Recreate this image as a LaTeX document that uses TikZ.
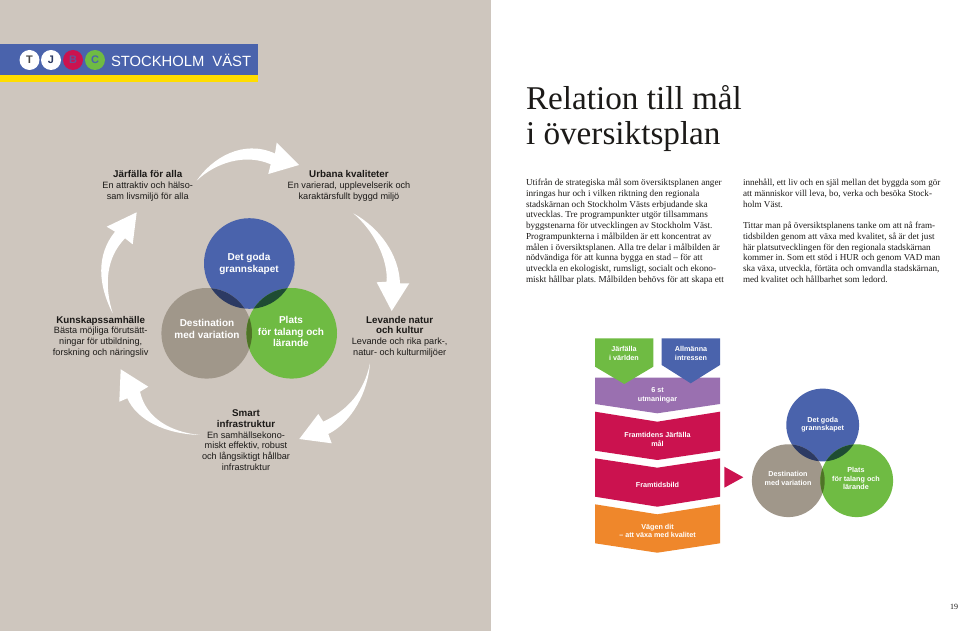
\documentclass[tikz,border=0pt]{standalone}
\usepackage{fontspec}
\usepackage{xcolor}
\usepackage{tikz}
\setmainfont{Liberation Sans}
\newfontfamily\bookfont{Liberation Serif}
\definecolor{figPage}{HTML}{CEC6BE}
\definecolor{figBlue}{HTML}{4A63AC}
\definecolor{figGreen}{HTML}{6FBB43}
\definecolor{figStone}{HTML}{A0978A}
\definecolor{figRed}{HTML}{CB124F}
\definecolor{figPurple}{HTML}{9A70B0}
\definecolor{figOrange}{HTML}{EF872B}
\definecolor{figYellow}{HTML}{FFDD00}
\definecolor{figNavy}{HTML}{2C3A63}
\definecolor{figPine}{HTML}{1E4C33}
\definecolor{figOlive}{HTML}{4F7327}
\definecolor{figInk}{HTML}{1C1A18}
\newcommand{\caphead}[1]{{\fontsize{9.8}{10.7}\selectfont\bfseries #1}}

\begin{document}
\begin{tikzpicture}[
  x=1pt, y=-1pt,
  every node/.style={inner sep=0pt, outer sep=0pt},
  caption/.style={text=figInk, align=center, font=\fontsize{9.15}{10.7}\selectfont},
  vennbig/.style={text=white, align=center, font=\fontsize{10}{11.7}\selectfont\bfseries},
  vennsmall/.style={text=white, align=center, font=\fontsize{7.2}{8.5}\selectfont\bfseries},
  bodytext/.style={text=figInk, align=left, anchor=north west, font=\bookfont\fontsize{#1}{10.74}\selectfont\frenchspacing},
  badge/.style={circle, minimum size=20pt, font=\fontsize{11}{11}\selectfont\bfseries},
]

% --- Page ---
\fill[white] (0,0) rectangle (959,631);
\fill[figPage] (0,0) rectangle (491,631);

% --- Banner ---
\fill[figBlue] (0,44.5) rectangle (258,75);
\fill[figYellow] (0,75) rectangle (258,82.5);
\node[badge, fill=white, text=figInk!80] (badgeT) at (29.5,60) {T};
\node[badge, fill=white, text=figNavy] (badgeJ) at (51,60) {J};
\node[badge, fill=figRed, text=figBlue!80!figRed] (badgeB) at (73,60) {B};
\node[badge, fill=figGreen, text=figBlue] (badgeC) at (95,60) {C};
\node[text=white, anchor=west, font=\fontsize{14.8}{14.8}\selectfont] (bannerText) at (111,60) {STOCKHOLM\hspace{8pt}VÄST};

% --- Block arrows ---
\fill[white] (196.7,180.7) .. controls (212,158) and (243,139) .. (275,153.5)
  -- (276.7,142.7) -- (299,165) -- (268.3,174) -- (270.7,164.3)
  .. controls (245,153) and (215,163) .. cycle;
\fill[white] (353.3,213.3) .. controls (380,228) and (399,255) .. (400,283.3)
  -- (409.3,283.3) -- (391.7,311) -- (376.7,282.3) -- (386.7,281.7)
  .. controls (388,258) and (373,230) .. cycle;
\fill[white] (370,363.3) .. controls (368,392) and (352,422) .. (328.3,434)
  -- (331.7,443.3) -- (299.3,439) -- (318.3,414) -- (323.3,421.7)
  .. controls (348,410) and (364,392) .. cycle;
\fill[white] (200,435) .. controls (170,432) and (146,418) .. (140,391.7)
  -- (148.3,386.7) -- (120.7,369.3) -- (119.3,401.7) -- (127.3,398.3)
  .. controls (137,420) and (165,434) .. cycle;
\fill[white] (112.7,313.3) .. controls (98,285) and (96,255) .. (115,231.7)
  -- (106.7,226.7) -- (136.7,212.3) -- (132.7,244.3) -- (125,238.3)
  .. controls (106,258) and (104,285) .. cycle;

% --- Large circles ---
\def\R{45.3}
\fill[figBlue] (249.3,263.5) circle (\R);
\fill[figStone] (206.7,333.3) circle (\R);
\fill[figGreen] (291.7,333.3) circle (\R);
\begin{scope}
  \clip (249.3,263.5) circle (\R);
  \fill[figNavy] (206.7,333.3) circle (\R);
  \fill[figPine] (291.7,333.3) circle (\R);
\end{scope}
\begin{scope}
  \clip (206.7,333.3) circle (\R);
  \fill[figOlive] (291.7,333.3) circle (\R);
\end{scope}
\node[vennbig] (bigTop) at (249,264) {Det goda\\grannskapet};
\node[vennbig] (bigLeft) at (207,329) {Destination\\med variation};
\node[vennbig] (bigRight) at (291,331.5) {Plats\\för talang och\\lärande};

% --- Captions ---
\node[caption] (capJarfalla) at (147.7,186) {\caphead{Järfälla för alla}\\En attraktiv och hälso-\\sam livsmiljö för alla};
\node[caption] (capUrbana) at (349,186) {\caphead{Urbana kvaliteter}\\En varierad, upplevelserik och\\karaktärsfullt byggd miljö};
\node[caption] (capKunskap) at (100.7,336.7) {\caphead{Kunskapssamhälle}\\Bästa möjliga förutsätt-\\ningar för utbildning,\\forskning och näringsliv};
\node[caption] (capLevande) at (399.7,336.7) {\caphead{Levande natur}\\\caphead{och kultur}\\Levande och rika park-,\\natur- och kulturmiljöer};
\node[caption] (capSmart) at (246,440) {\caphead{Smart}\\\caphead{infrastruktur}\\En samhällsekono-\\miskt effektiv, robust\\och långsiktigt hållbar\\infrastruktur};

% --- Title and body ---
\node[anchor=base west, font=\bookfont\fontsize{33.2}{36}\selectfont, text=figInk] (title) at (526,110) {Relation till mål};
\node[anchor=base west, font=\bookfont\fontsize{33.2}{36}\selectfont, text=figInk] (titleTwo) at (526,145) {i översiktsplan};
\node[bodytext=9.2] (columnOne) at (526,179) {Utifrån de strategiska mål som översiktsplanen anger\\
inringas hur och i vilken riktning den regionala\\
stadskärnan och Stockholm Västs erbjudande ska\\
utvecklas. Tre programpunkter utgör tillsammans\\
byggstenarna för utvecklingen av Stockholm Väst.\\
Programpunkterna i målbilden är ett koncentrat av\\
målen i översiktsplanen. Alla tre delar i målbilden är\\
nödvändiga för att kunna bygga en stad – för att\\
utveckla en ekologiskt, rumsligt, socialt och ekono-\\
miskt hållbar plats. Målbilden behövs för att skapa ett};
\node[bodytext=9.1] (columnTwo) at (743,179) {innehåll, ett liv och en själ mellan det byggda som gör\\
att människor vill leva, bo, verka och besöka Stock-\\
holm Väst.\\[10.74pt]
Tittar man på översiktsplanens tanke om att nå fram-\\
tidsbilden genom att växa med kvalitet, så är det just\\
här platsutvecklingen för den regionala stadskärnan\\
kommer in. Som ett stöd i HUR och genom VAD man\\
ska växa, utveckla, förtäta och omvandla stadskärnan,\\
med kvalitet och hållbarhet som ledord.};
\node[anchor=base east, font=\bookfont\fontsize{8}{8}\selectfont, text=figInk] (pageNo) at (958,609) {19};

% --- Stacked chevrons ---
\fill[figPurple] (595,377.7) -- (720,377.7) -- (720,404) -- (657.3,413.3) -- (595,404) -- cycle;
\fill[figGreen] (595,338.3) -- (653.3,338.3) -- (653.3,366.7) -- (624.3,384) -- (595,366.7) -- cycle;
\fill[figBlue] (661.7,338.3) -- (720,338.3) -- (720,365) -- (690.7,383.3) -- (661.7,365) -- cycle;
\fill[figRed] (595,411.7) -- (657.3,421.7) -- (720,411.7) -- (720,450.7) -- (657.3,460) -- (595,450.7) -- cycle;
\fill[figRed] (595,458.3) -- (657.3,467.7) -- (720,458.3) -- (720,496.7) -- (657.3,506.7) -- (595,496.7) -- cycle;
\fill[figOrange] (595,504.3) -- (657.3,514.3) -- (720,504.3) -- (720,543.3) -- (657.3,552.7) -- (595,543.3) -- cycle;
\fill[figRed] (724.3,466.7) -- (743.3,477.3) -- (724.3,487.7) -- cycle;
\node[vennsmall] (boxWorld) at (624,353.3) {Järfälla\\i världen};
\node[vennsmall] (boxPublic) at (691,353.3) {Allmänna\\intressen};
\node[vennsmall] (boxSix) at (657.5,395) {6 st\\utmaningar};
\node[vennsmall] (boxGoal) at (657.5,439.5) {Framtidens Järfälla\\mål};
\node[vennsmall] (boxImage) at (657.5,485.3) {Framtidsbild};
\node[vennsmall] (boxWay) at (657.5,531) {Vägen dit\\– att växa med kvalitet};

% --- Small circles ---
\def\r{36.4}
\fill[figBlue] (822.7,425) circle (\r);
\fill[figStone] (788.3,480.7) circle (\r);
\fill[figGreen] (856.7,480.7) circle (\r);
\begin{scope}
  \clip (822.7,425) circle (\r);
  \fill[figNavy] (788.3,480.7) circle (\r);
  \fill[figPine] (856.7,480.7) circle (\r);
\end{scope}
\begin{scope}
  \clip (788.3,480.7) circle (\r);
  \fill[figOlive] (856.7,480.7) circle (\r);
\end{scope}
\node[vennsmall] (smallTop) at (822.7,424.5) {Det goda\\grannskapet};
\node[vennsmall] (smallLeft) at (788,478.3) {Destination\\med variation};
\node[vennsmall] (smallRight) at (856,478.8) {Plats\\för talang och\\lärande};

\end{tikzpicture}
\end{document}
